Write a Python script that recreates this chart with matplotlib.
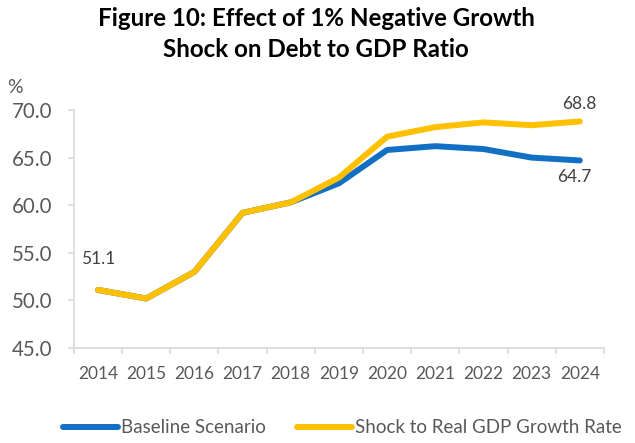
import numpy as np
import matplotlib.pyplot as plt

plt.rcParams['font.family'] = ['Lato', 'DejaVu Sans']

years = ['2014', '2015', '2016', '2017', '2018', '2019', '2020', '2021', '2022', '2023', '2024']
baseline = [51.1, 50.2, 53.0, 59.2, 60.3, 62.3, 65.8, 66.2, 65.9, 65.0, 64.7]
shock = [51.1, 50.2, 53.0, 59.2, 60.3, 62.9, 67.2, 68.2, 68.7, 68.4, 68.8]

blue = '#1170C4'
gold = '#FFC000'
grey = '#595959'

fig = plt.figure(figsize=(6.35, 4.43), dpi=100)
ax = fig.add_axes([0.1165, 0.2144, 0.8345, 0.5373])

x = np.arange(len(years))
ax.plot(x, baseline, color=blue, lw=4.3, solid_capstyle='round', label='Baseline Scenario')
ax.plot(x, shock, color=gold, lw=4.3, solid_capstyle='round', label='Shock to Real GDP Growth Rate')

ax.set_xlim(-0.5, len(years) - 0.5)
ax.set_ylim(45, 70)
ax.set_yticks(np.arange(45, 70.1, 5))
ax.set_yticklabels([f'{v:.1f}' for v in np.arange(45, 70.1, 5)], fontsize=14.8, color=grey)
ax.set_xticks(x)
ax.set_xticklabels(years, fontsize=12.5, color=grey)
ax.set_xticks(np.arange(-0.5, len(years)), minor=True)
ax.tick_params(axis='x', which='major', length=0, pad=13)
ax.tick_params(axis='x', which='minor', length=4, color='#D9D9D9', width=1.2)
ax.tick_params(axis='y', length=4.5, color='#D9D9D9', width=1.2, pad=11)

for s in ['top', 'right']:
    ax.spines[s].set_visible(False)
for s in ['left', 'bottom']:
    ax.spines[s].set_color('#D9D9D9')
    ax.spines[s].set_linewidth(1.2)

ax.annotate(f'{baseline[0]:.1f}', (x[0], baseline[0]), xytext=(0, 22), textcoords='offset points',
            ha='center', va='center', fontsize=12.5, color='#404040')
ax.annotate(f'{shock[-1]:.1f}', (x[-1], shock[-1]), xytext=(0, 12.5), textcoords='offset points',
            ha='center', va='center', fontsize=12.5, color='#404040')
ax.annotate(f'{baseline[-1]:.1f}', (x[-1], baseline[-1]), xytext=(-4, -12), textcoords='offset points',
            ha='center', va='center', fontsize=12.5, color='#404040')

fig.text(15 / 635, 1 - 88 / 443, '%', fontsize=14, color=grey, ha='center', va='center')
fig.text(316 / 635, 1 - 34 / 443, 'Figure 10: Effect of 1% Negative Growth\nShock on Debt to GDP Ratio',
         ha='center', va='center', fontsize=17.4, fontweight='bold', linespacing=1.4)

fig.legend(loc='center left', bbox_to_anchor=(0.073, 0.034), ncol=2, frameon=False,
           fontsize=13.5, handlelength=2.9, handletextpad=0.2, columnspacing=1.65, labelcolor=grey)

fig.savefig('out.png', dpi=100)
